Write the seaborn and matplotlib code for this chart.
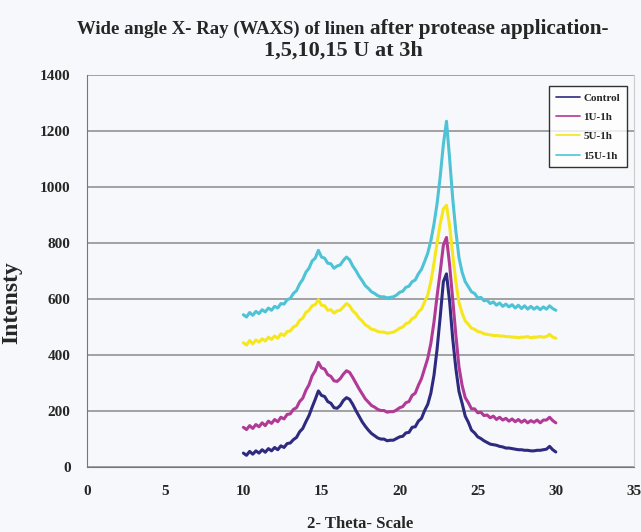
import numpy as np
import pandas as pd
import seaborn as sns
import matplotlib.pyplot as plt

# 2-theta grid, 0.2 degree step from 10 to 30
two_theta = np.round(np.linspace(10, 30, 101), 1)

control = [50, 42, 56, 46, 58, 50, 62, 53, 66, 58,
           70, 62, 76, 70, 84, 86, 98, 106, 126, 138,
           162, 184, 214, 242, 272, 256, 252, 234, 228, 212,
           210, 220, 238, 248, 242, 224, 202, 182, 162, 146,
           132, 120, 112, 104, 100, 100, 94, 96, 96, 102,
           108, 110, 122, 124, 142, 144, 164, 174, 202, 224,
           264, 328, 422, 538, 662, 690, 592, 458, 352, 270,
           228, 182, 160, 132, 122, 108, 102, 94, 88, 82,
           80, 78, 74, 72, 68, 68, 66, 64, 62, 62,
           60, 60, 58, 58, 60, 60, 62, 64, 74, 62,
           54]

u1 = [142, 134, 148, 138, 152, 144, 158, 148, 164, 156,
      170, 162, 178, 172, 188, 190, 206, 212, 234, 246,
      274, 294, 326, 344, 374, 354, 350, 330, 324, 308,
      306, 316, 332, 344, 338, 320, 300, 280, 262, 244,
      232, 220, 214, 206, 202, 202, 196, 198, 198, 204,
      212, 216, 230, 234, 256, 264, 292, 316, 352, 388,
      442, 518, 612, 698, 792, 820, 722, 598, 472, 358,
      292, 248, 230, 208, 208, 194, 196, 184, 186, 176,
      182, 170, 178, 168, 174, 164, 172, 162, 170, 160,
      168, 158, 166, 160, 168, 158, 168, 168, 178, 166,
      158]

u5 = [444, 436, 452, 440, 454, 446, 458, 450, 464, 456,
      468, 460, 476, 470, 484, 486, 500, 506, 524, 532,
      552, 560, 576, 580, 598, 578, 576, 560, 562, 550,
      558, 560, 572, 584, 576, 558, 548, 532, 522, 508,
      502, 492, 490, 484, 482, 482, 478, 480, 482, 488,
      496, 500, 512, 516, 530, 536, 554, 564, 590, 614,
      662, 728, 802, 868, 922, 935, 862, 758, 662, 588,
      550, 522, 510, 496, 492, 484, 482, 476, 474, 472,
      470, 470, 468, 468, 466, 466, 464, 464, 462, 464,
      464, 466, 462, 464, 464, 466, 464, 466, 474, 464,
      460]

u15 = [544, 536, 552, 542, 556, 548, 562, 554, 568, 560,
       574, 568, 584, 582, 598, 602, 620, 630, 654, 670,
       696, 710, 736, 746, 774, 750, 746, 728, 726, 710,
       718, 722, 738, 750, 740, 718, 702, 682, 666, 648,
       638, 626, 620, 612, 608, 608, 604, 606, 608, 614,
       624, 628, 642, 646, 662, 668, 690, 706, 734, 764,
       808, 868, 942, 1038, 1152, 1235, 1102, 958, 842, 748,
       696, 662, 644, 626, 620, 604, 606, 594, 596, 584,
       590, 578, 586, 574, 582, 572, 580, 568, 578, 566,
       576, 564, 574, 564, 572, 562, 572, 564, 576, 566,
       560]

labels = ["Control", "1U-1h", "5U-1h", "15U-1h"]
colors = ["#2e2a80", "#b03a96", "#f5e71c", "#4ec3d6"]

df = pd.concat([
    pd.DataFrame({"theta": two_theta, "intensity": vals, "sample": lab})
    for lab, vals in zip(labels, [control, u1, u5, u15])
])

sns.set_style("white")
plt.rcParams["font.family"] = ["Liberation Serif", "DejaVu Serif"]
plt.rcParams["font.weight"] = "bold"

fig = plt.figure(figsize=(6.41, 5.32), dpi=100, facecolor="#f7f8fb")
ax = fig.add_axes([0.136, 0.122, 0.853, 0.737])
ax.set_facecolor("#f7f8fb")

sns.lineplot(data=df, x="theta", y="intensity", hue="sample",
             palette=colors, linewidth=2.2, ax=ax)

ax.set_xlim(0, 35)
ax.set_ylim(0, 1400)
ax.set_xticks(range(0, 36, 5))
ax.set_yticks(range(0, 1401, 200))
ax.yaxis.grid(True, color="#8a8a8a", linewidth=1.1)
ax.set_axisbelow(True)
for s in ["left", "bottom"]:
    ax.spines[s].set_color("#777777")
ax.spines["top"].set_visible(False)
ax.spines["right"].set_color("#cccccc")
ax.tick_params(axis="y", direction="out", length=6, color="#777777",
               labelsize=11, pad=6)
ax.tick_params(axis="x", direction="inout", length=6, color="#777777",
               labelsize=11, pad=10)
for lab in ax.get_xticklabels() + ax.get_yticklabels():
    lab.set_fontweight("bold")

ax.set_xlabel("2- Theta- Scale", fontsize=12, fontweight="bold", labelpad=13)
ax.set_ylabel("Intensty", fontsize=17, fontweight="bold")
ax.yaxis.set_label_coords(-0.119, 0.42)

# title: first line in two sizes, as in the original
fig.text(0.568, 0.936, "Wide angle X- Ray (WAXS) of linen",
         ha="right", va="baseline", fontsize=13.5, fontweight="bold")
fig.text(0.577, 0.936, "after protease application-",
         ha="left", va="baseline", fontsize=15.3, fontweight="bold")
fig.text(0.535, 0.896, "1,5,10,15 U at 3h",
         ha="center", va="baseline", fontsize=16, fontweight="bold")

leg = ax.legend(loc="upper right", bbox_to_anchor=(0.997, 0.985), fontsize=8,
                frameon=True, fancybox=False, handlelength=2.2,
                borderpad=0.6, labelspacing=0.85, handletextpad=0.3)
leg.get_frame().set_edgecolor("black")
leg.get_frame().set_linewidth(1.0)
leg.get_frame().set_facecolor("white")
for t in leg.get_texts():
    t.set_fontweight("bold")
for ln in leg.get_lines():
    ln.set_linewidth(1.2)

fig.savefig("out.png", dpi=100, facecolor=fig.get_facecolor())
